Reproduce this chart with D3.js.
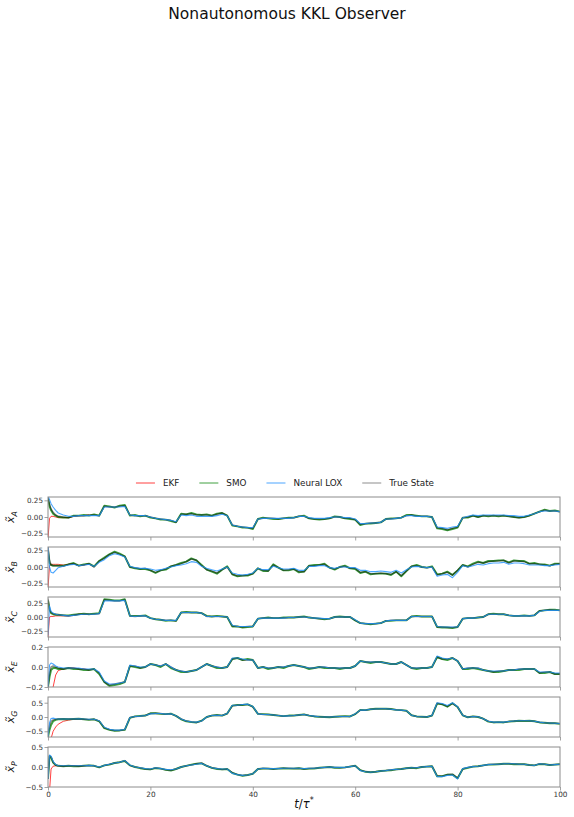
<!DOCTYPE html>
<html><head><meta charset="utf-8">
<script src="https://cdn.jsdelivr.net/npm/d3@7"></script>
<style>body{margin:0;background:#fff} svg{display:block}</style>
</head><body><div id="chart"></div>
<script>
// ---------------- DATA ----------------
const tGrid = [0,0.3,0.6,1,1.5,2,3,4,5,6,7,8,9,10,11,12,13,14,15,16,17,18,19,20,21,22,23,24,25,26,27,28,29,30,31,32,33,34,35,36,37,38,39,40,41,42,43,44,45,46,47,48,49,50,51,52,53,54,55,56,57,58,59,60,61,62,63,64,65,66,67,68,69,70,71,72,73,74,75,76,77,78,79,80,81,82,83,84,85,86,87,88,89,90,91,92,93,94,95,96,97,98,99,100];
const tEkf = [0,0.3,0.6,1,1.5,2,3,4,5,6,7,8];
const xTicks = [0,20,40,60,80,100];
const seriesNames = ["EKF","SMO","Neural LOX","True State"];
const stateLabels = ["A","B","C","E","G","P"];

// x̃_A
const A_true = [0.30,0.19,0.12,0.07,0.03,
 0.01,0.00,-0.01,0.01,0.02,0.02,0.03,0.03,0.02,
 0.16,0.15,0.15,0.16,0.17,0.03,0.02,0.02,0.02,0.00,
 -0.02,-0.03,-0.04,-0.05,-0.08,0.04,0.04,0.05,0.03,0.03,
 0.03,0.02,0.04,0.06,0.02,-0.12,-0.14,-0.15,-0.16,-0.17,
 -0.03,-0.02,-0.02,-0.02,-0.03,-0.02,-0.02,-0.01,0.01,0.01,
 -0.02,-0.03,-0.03,-0.03,-0.02,0.00,0.00,-0.02,-0.02,-0.04,
 -0.11,-0.10,-0.09,-0.09,-0.08,-0.03,-0.03,-0.02,-0.01,0.02,
 0.03,0.01,0.01,0.01,0.00,-0.16,-0.17,-0.19,-0.17,-0.15,
 -0.01,0.00,0.02,0.00,0.02,0.02,0.02,0.02,0.02,0.01,
 0.00,-0.01,0.00,0.02,0.05,0.08,0.10,0.09,0.09,0.08];
const A_smo = [0.28,0.16,0.10,0.05,0.02,
 0.00,-0.01,-0.01,0.02,0.02,0.03,0.02,0.04,0.02,
 0.17,0.16,0.14,0.17,0.18,0.02,0.03,0.01,0.02,-0.01,
 -0.02,-0.04,-0.04,-0.06,-0.08,0.05,0.04,0.06,0.04,0.03,
 0.04,0.02,0.05,0.06,0.02,-0.13,-0.14,-0.16,-0.16,-0.18,
 -0.03,-0.01,-0.02,-0.03,-0.03,-0.02,-0.01,-0.01,0.01,0.02,
 -0.02,-0.03,-0.04,-0.03,-0.02,0.01,0.00,-0.02,-0.03,-0.04,
 -0.12,-0.10,-0.10,-0.09,-0.08,-0.03,-0.02,-0.02,-0.01,0.03,
 0.03,0.02,0.01,0.01,0.00,-0.17,-0.18,-0.20,-0.18,-0.16,
 -0.01,-0.01,0.02,0.00,0.02,0.01,0.02,0.01,0.02,0.01,
 0.00,-0.01,0.00,0.02,0.05,0.08,0.11,0.09,0.10,0.08];
const A_lox = [0.32,0.26,0.20,0.15,0.10,
 0.06,0.03,0.01,0.01,0.02,0.02,0.02,0.02,0.02,
 0.15,0.15,0.15,0.15,0.16,0.03,0.02,0.02,0.02,0.00,
 -0.02,-0.03,-0.04,-0.05,-0.07,0.03,0.02,0.03,0.01,0.01,
 0.01,0.01,0.02,0.04,0.02,-0.12,-0.14,-0.15,-0.16,-0.16,
 -0.03,-0.02,-0.02,-0.02,-0.02,-0.02,-0.02,-0.01,0.01,0.01,
 -0.01,-0.02,-0.02,-0.02,-0.01,0.00,0.00,-0.01,-0.01,-0.03,
 -0.10,-0.10,-0.09,-0.09,-0.08,-0.03,-0.03,-0.02,-0.01,0.02,
 0.02,0.01,0.01,0.01,0.00,-0.15,-0.16,-0.17,-0.15,-0.14,
 -0.01,0.01,0.03,0.02,0.03,0.03,0.03,0.03,0.03,0.02,
 0.02,0.01,0.01,0.03,0.05,0.08,0.09,0.09,0.09,0.08];
const A_ekf = [-0.32,-0.02,0.01,0.01,0.00,-0.01,-0.01,-0.01,0.01,0.02,0.02,0.03];

// x̃_B
const B_true = [0.30,0.10,0.03,0.02,0.02,
 0.02,0.01,0.04,0.05,0.02,0.03,0.05,0.00,0.09,
 0.13,0.19,0.22,0.19,0.16,0.00,-0.01,-0.03,-0.02,-0.05,
 -0.08,-0.05,-0.03,0.01,0.03,0.05,0.08,0.12,0.10,0.02,
 -0.04,-0.06,-0.09,-0.04,0.00,-0.11,-0.13,-0.13,-0.12,-0.10,
 -0.02,-0.05,-0.06,0.03,-0.01,-0.05,-0.04,-0.03,-0.07,-0.07,
 0.02,0.02,0.03,0.04,-0.01,-0.03,0.00,0.01,-0.02,-0.02,
 -0.08,-0.07,-0.10,-0.10,-0.09,-0.10,-0.11,-0.07,-0.13,-0.06,
 0.01,0.02,0.00,-0.01,0.00,-0.12,-0.10,-0.08,-0.12,-0.05,
 0.03,0.00,0.04,0.07,0.06,0.08,0.09,0.09,0.10,0.06,
 0.09,0.09,0.08,0.05,0.05,0.04,0.03,0.02,0.04,0.05];
const B_smo = [0.25,0.06,0.03,0.02,0.02,
 0.02,0.02,0.04,0.06,0.02,0.04,0.05,0.01,0.09,
 0.14,0.19,0.23,0.20,0.16,0.00,-0.02,-0.03,-0.03,-0.05,
 -0.09,-0.05,-0.04,0.01,0.03,0.06,0.08,0.13,0.10,0.03,
 -0.04,-0.07,-0.10,-0.04,0.01,-0.11,-0.14,-0.13,-0.13,-0.10,
 -0.02,-0.06,-0.06,0.04,-0.01,-0.05,-0.05,-0.03,-0.08,-0.07,
 0.02,0.03,0.03,0.05,-0.01,-0.04,0.00,0.02,-0.02,-0.03,
 -0.09,-0.07,-0.11,-0.10,-0.10,-0.10,-0.12,-0.07,-0.14,-0.06,
 0.01,0.03,0.00,-0.01,0.01,-0.11,-0.10,-0.07,-0.12,-0.05,
 0.03,0.01,0.05,0.08,0.06,0.09,0.09,0.10,0.10,0.07,
 0.10,0.09,0.09,0.05,0.06,0.04,0.04,0.02,0.05,0.05];
const B_lox = [0.30,0.00,-0.08,-0.09,-0.05,
 -0.01,0.01,0.03,0.04,0.02,0.03,0.04,0.01,0.07,
 0.11,0.17,0.20,0.18,0.15,0.01,-0.01,-0.02,-0.02,-0.03,
 -0.05,-0.04,-0.02,0.00,0.02,0.03,0.05,0.08,0.07,0.01,
 -0.02,-0.04,-0.06,-0.03,0.00,-0.09,-0.11,-0.12,-0.11,-0.09,
 -0.02,-0.04,-0.04,0.01,-0.01,-0.03,-0.03,-0.02,-0.05,-0.05,
 0.01,0.01,0.02,0.02,-0.01,-0.02,0.00,0.00,-0.01,-0.01,
 -0.05,-0.05,-0.07,-0.07,-0.06,-0.07,-0.08,-0.05,-0.09,-0.04,
 0.00,0.01,0.00,-0.01,0.00,-0.14,-0.12,-0.11,-0.16,-0.08,
 0.02,0.00,0.02,0.04,0.03,0.05,0.06,0.06,0.07,0.04,
 0.06,0.06,0.05,0.03,0.03,0.03,0.02,0.02,0.03,0.04];
const B_ekf = [-0.32,0.02,0.04,0.04,0.04,0.04,0.03,0.04,0.05,0.02,0.03,0.05];

// x̃_C
const C_true = [0.33,0.15,0.08,0.06,0.05,
 0.04,0.03,0.02,0.03,0.05,0.05,0.05,0.05,0.06,
 0.31,0.30,0.29,0.29,0.31,0.02,0.01,0.02,0.02,-0.02,
 -0.04,-0.05,-0.06,-0.06,-0.07,0.08,0.08,0.08,0.08,0.07,
 0.01,0.01,0.01,0.01,0.00,-0.16,-0.17,-0.18,-0.17,-0.17,
 -0.03,-0.02,-0.02,-0.02,-0.02,-0.02,-0.01,-0.01,0.00,0.00,
 -0.01,-0.02,-0.03,-0.03,-0.03,0.00,0.00,0.00,0.00,-0.06,
 -0.11,-0.12,-0.12,-0.12,-0.11,-0.07,-0.06,-0.06,-0.06,-0.06,
 0.01,0.01,0.01,0.01,0.01,-0.18,-0.18,-0.19,-0.19,-0.18,
 -0.03,-0.02,-0.02,-0.01,0.00,0.05,0.05,0.05,0.05,0.03,
 0.02,0.02,0.02,0.02,0.03,0.11,0.12,0.13,0.12,0.12];
const C_smo = [0.30,0.13,0.07,0.05,0.04,
 0.04,0.03,0.03,0.04,0.05,0.06,0.05,0.06,0.07,
 0.32,0.31,0.30,0.30,0.32,0.02,0.02,0.02,0.03,-0.02,
 -0.04,-0.05,-0.07,-0.06,-0.07,0.08,0.09,0.08,0.08,0.07,
 0.02,0.01,0.02,0.01,0.00,-0.17,-0.17,-0.19,-0.18,-0.17,
 -0.03,-0.02,-0.01,-0.02,-0.02,-0.01,-0.01,-0.01,0.00,0.01,
 -0.01,-0.02,-0.03,-0.04,-0.03,0.00,0.01,0.00,0.00,-0.06,
 -0.11,-0.12,-0.13,-0.12,-0.11,-0.07,-0.07,-0.06,-0.06,-0.06,
 0.01,0.02,0.01,0.01,0.01,-0.18,-0.19,-0.19,-0.20,-0.18,
 -0.03,-0.02,-0.02,-0.01,0.00,0.05,0.06,0.05,0.05,0.03,
 0.02,0.02,0.03,0.02,0.03,0.11,0.12,0.13,0.13,0.12];
const C_lox = [-0.33,0.20,0.10,0.07,0.05,
 0.04,0.03,0.02,0.03,0.04,0.05,0.05,0.05,0.06,
 0.29,0.29,0.29,0.29,0.30,0.02,0.01,0.02,0.02,-0.02,
 -0.04,-0.05,-0.06,-0.06,-0.06,0.08,0.08,0.08,0.08,0.07,
 0.01,0.01,0.01,0.01,0.00,-0.15,-0.17,-0.17,-0.17,-0.17,
 -0.03,-0.02,-0.02,-0.02,-0.02,-0.02,-0.01,-0.01,0.00,0.00,
 -0.01,-0.02,-0.02,-0.03,-0.03,0.00,0.00,0.00,0.00,-0.05,
 -0.11,-0.12,-0.12,-0.12,-0.11,-0.07,-0.06,-0.06,-0.06,-0.06,
 0.01,0.01,0.01,0.01,0.01,-0.17,-0.18,-0.18,-0.18,-0.18,
 -0.03,-0.02,-0.02,-0.01,0.00,0.05,0.05,0.05,0.05,0.03,
 0.02,0.02,0.02,0.02,0.03,0.10,0.12,0.12,0.12,0.12];
const C_ekf = [-0.36,0.00,0.01,0.01,0.02,0.02,0.02,0.02,0.03,0.05,0.05,0.05];

// x̃_E
const E_true = [-0.20,-0.06,0.00,0.01,0.00,
 -0.01,-0.02,-0.01,-0.01,-0.02,-0.02,-0.03,-0.02,-0.06,
 -0.15,-0.18,-0.17,-0.16,-0.15,0.01,0.01,-0.01,0.00,0.03,
 0.02,0.01,0.03,0.00,-0.03,-0.04,-0.05,-0.04,-0.03,0.00,
 0.03,0.01,0.00,-0.01,0.00,0.08,0.09,0.07,0.07,0.07,
 -0.01,0.00,-0.01,-0.01,0.00,0.00,0.01,0.02,0.01,0.00,
 -0.01,-0.01,0.00,0.00,-0.01,-0.01,-0.01,-0.01,-0.01,0.01,
 0.06,0.05,0.05,0.05,0.05,0.04,0.03,0.03,0.05,0.02,
 -0.01,-0.01,-0.01,-0.01,0.00,0.10,0.08,0.08,0.09,0.06,
 -0.02,-0.01,-0.01,-0.01,-0.03,-0.04,-0.05,-0.04,-0.04,-0.03,
 -0.03,-0.02,-0.02,-0.02,-0.02,-0.06,-0.05,-0.05,-0.07,-0.07];
const E_smo = [-0.20,-0.10,-0.03,-0.01,-0.01,
 -0.02,-0.02,-0.01,-0.02,-0.02,-0.03,-0.03,-0.02,-0.07,
 -0.15,-0.19,-0.18,-0.17,-0.15,0.01,0.00,-0.01,0.00,0.03,
 0.02,0.00,0.03,-0.01,-0.03,-0.05,-0.05,-0.04,-0.03,0.00,
 0.03,0.01,-0.01,-0.01,0.00,0.08,0.09,0.07,0.08,0.07,
 -0.01,0.00,-0.02,-0.01,0.00,-0.01,0.01,0.02,0.01,0.00,
 -0.02,-0.01,0.00,-0.01,-0.01,-0.01,-0.02,-0.01,-0.01,0.01,
 0.06,0.05,0.04,0.05,0.05,0.04,0.03,0.03,0.05,0.02,
 -0.01,-0.02,-0.01,-0.01,0.00,0.10,0.08,0.07,0.09,0.06,
 -0.02,-0.02,-0.01,-0.02,-0.03,-0.04,-0.05,-0.05,-0.04,-0.03,
 -0.03,-0.03,-0.02,-0.02,-0.02,-0.06,-0.06,-0.05,-0.07,-0.07];
const E_lox = [-0.20,0.02,0.04,0.03,0.01,
 0.00,-0.01,-0.01,-0.01,-0.01,-0.02,-0.02,-0.02,-0.05,
 -0.14,-0.17,-0.17,-0.16,-0.15,0.02,0.01,0.00,0.00,0.03,
 0.02,0.01,0.03,0.00,-0.03,-0.04,-0.05,-0.04,-0.03,0.00,
 0.03,0.01,0.00,-0.01,0.00,0.09,0.09,0.08,0.07,0.07,
 -0.01,0.00,-0.01,-0.01,0.00,0.00,0.01,0.02,0.01,0.00,
 -0.01,-0.01,0.00,0.00,-0.01,-0.01,-0.01,-0.01,-0.01,0.01,
 0.06,0.05,0.05,0.05,0.05,0.04,0.03,0.03,0.05,0.02,
 -0.01,-0.01,-0.01,-0.01,0.00,0.11,0.09,0.08,0.09,0.06,
 -0.02,-0.01,-0.01,-0.01,-0.03,-0.04,-0.04,-0.04,-0.04,-0.03,
 -0.03,-0.02,-0.02,-0.02,-0.02,-0.05,-0.05,-0.05,-0.06,-0.06];
const E_ekf = [-0.50,-0.40,-0.30,-0.20,-0.08,-0.035,-0.02,-0.01,-0.01,-0.02,-0.02,-0.03];

// x̃_G
const G_true = [-0.60,-0.30,-0.15,-0.10,-0.08,
 -0.07,-0.07,-0.07,-0.07,-0.06,-0.08,-0.09,-0.08,-0.14,
 -0.38,-0.44,-0.47,-0.47,-0.44,-0.02,0.02,0.03,0.05,0.12,
 0.13,0.12,0.10,0.11,0.04,-0.07,-0.14,-0.17,-0.19,-0.14,
 0.00,0.05,0.06,0.05,0.12,0.39,0.41,0.43,0.44,0.36,
 0.11,0.09,0.09,0.07,0.05,0.03,0.04,0.05,0.07,0.09,
 0.05,0.03,0.01,0.00,0.00,0.01,0.02,0.02,0.02,0.10,
 0.24,0.24,0.27,0.28,0.29,0.29,0.27,0.25,0.24,0.22,
 0.06,0.02,0.01,0.00,0.05,0.48,0.45,0.37,0.48,0.35,
 0.06,-0.01,0.02,0.01,-0.06,-0.15,-0.18,-0.18,-0.18,-0.16,
 -0.14,-0.13,-0.13,-0.13,-0.15,-0.18,-0.20,-0.21,-0.22,-0.23];
const G_smo = [-0.70,-0.45,-0.28,-0.15,-0.10,
 -0.08,-0.07,-0.08,-0.07,-0.06,-0.08,-0.10,-0.08,-0.15,
 -0.39,-0.45,-0.48,-0.47,-0.45,-0.03,0.02,0.04,0.05,0.13,
 0.13,0.11,0.10,0.12,0.04,-0.08,-0.15,-0.18,-0.19,-0.13,
 0.00,0.05,0.07,0.05,0.12,0.40,0.42,0.42,0.44,0.36,
 0.11,0.10,0.09,0.07,0.05,0.03,0.05,0.05,0.07,0.09,
 0.05,0.02,0.01,0.00,-0.01,0.01,0.02,0.03,0.02,0.10,
 0.25,0.24,0.27,0.29,0.29,0.29,0.28,0.25,0.24,0.22,
 0.06,0.02,0.01,0.00,0.05,0.47,0.44,0.36,0.48,0.35,
 0.06,-0.01,0.02,0.00,-0.06,-0.16,-0.19,-0.18,-0.19,-0.16,
 -0.15,-0.13,-0.14,-0.13,-0.15,-0.19,-0.20,-0.22,-0.22,-0.24];
const G_lox = [-0.70,-0.20,-0.05,-0.04,-0.06,
 -0.07,-0.07,-0.07,-0.07,-0.06,-0.07,-0.08,-0.08,-0.13,
 -0.36,-0.43,-0.46,-0.46,-0.44,-0.02,0.02,0.03,0.05,0.11,
 0.12,0.12,0.10,0.11,0.04,-0.07,-0.14,-0.17,-0.18,-0.14,
 0.00,0.05,0.06,0.05,0.12,0.41,0.41,0.44,0.45,0.37,
 0.11,0.09,0.09,0.07,0.05,0.03,0.04,0.05,0.07,0.09,
 0.05,0.03,0.01,0.00,0.00,0.01,0.02,0.02,0.02,0.11,
 0.24,0.24,0.27,0.28,0.29,0.29,0.27,0.25,0.24,0.22,
 0.06,0.02,0.01,0.00,0.05,0.50,0.47,0.40,0.50,0.36,
 0.06,-0.01,0.02,0.01,-0.06,-0.15,-0.18,-0.18,-0.18,-0.16,
 -0.14,-0.13,-0.13,-0.13,-0.15,-0.18,-0.20,-0.21,-0.22,-0.23];
const G_ekf = [-1.00,-0.90,-0.75,-0.50,-0.35,-0.25,-0.15,-0.11,-0.08,-0.07,-0.08,-0.09];

// x̃_P
const P_true = [-0.30,0.28,0.25,0.12,0.05,
 0.03,0.02,0.03,0.03,0.02,0.03,0.04,0.03,-0.01,
 0.04,0.07,0.10,0.12,0.16,0.04,0.00,-0.02,-0.05,-0.06,
 -0.02,-0.04,-0.07,-0.08,-0.05,0.00,0.03,0.05,0.08,0.10,
 0.03,-0.02,-0.04,-0.06,-0.05,-0.14,-0.19,-0.21,-0.20,-0.17,
 -0.05,-0.03,-0.04,-0.05,-0.04,-0.03,-0.03,-0.04,-0.03,-0.05,
 -0.04,-0.03,-0.02,-0.01,0.00,-0.01,-0.02,-0.01,0.01,0.03,
 -0.08,-0.11,-0.13,-0.12,-0.10,-0.09,-0.07,-0.06,-0.05,-0.03,
 -0.02,-0.02,0.00,0.01,0.02,-0.22,-0.23,-0.19,-0.18,-0.28,
 -0.05,-0.01,0.01,0.02,0.04,0.06,0.07,0.07,0.08,0.08,
 0.08,0.07,0.07,0.05,0.04,0.08,0.07,0.05,0.06,0.07];
const P_smo = [-0.30,0.27,0.24,0.11,0.05,
 0.03,0.02,0.03,0.02,0.02,0.03,0.04,0.03,-0.01,
 0.04,0.06,0.10,0.12,0.15,0.04,0.00,-0.03,-0.05,-0.06,
 -0.03,-0.04,-0.07,-0.09,-0.05,0.00,0.03,0.06,0.08,0.09,
 0.03,-0.02,-0.05,-0.06,-0.05,-0.15,-0.19,-0.22,-0.20,-0.17,
 -0.05,-0.04,-0.04,-0.05,-0.04,-0.03,-0.04,-0.04,-0.03,-0.05,
 -0.04,-0.04,-0.02,-0.01,0.00,-0.02,-0.02,-0.01,0.01,0.03,
 -0.08,-0.12,-0.13,-0.12,-0.10,-0.09,-0.08,-0.06,-0.05,-0.03,
 -0.02,-0.03,0.00,0.01,0.02,-0.23,-0.23,-0.19,-0.19,-0.28,
 -0.05,-0.02,0.01,0.02,0.04,0.06,0.06,0.07,0.08,0.08,
 0.07,0.07,0.07,0.05,0.04,0.07,0.07,0.05,0.06,0.07];
const P_lox = [-0.30,0.30,0.27,0.14,0.06,
 0.03,0.03,0.03,0.03,0.03,0.03,0.04,0.03,0.00,
 0.04,0.07,0.10,0.12,0.16,0.05,0.00,-0.02,-0.04,-0.05,
 -0.02,-0.04,-0.06,-0.07,-0.05,0.00,0.03,0.05,0.07,0.09,
 0.03,-0.02,-0.04,-0.05,-0.05,-0.16,-0.19,-0.21,-0.20,-0.17,
 -0.05,-0.03,-0.04,-0.04,-0.04,-0.03,-0.03,-0.03,-0.03,-0.04,
 -0.03,-0.03,-0.02,-0.01,0.00,-0.01,-0.01,-0.01,0.01,0.03,
 -0.09,-0.12,-0.13,-0.12,-0.10,-0.09,-0.07,-0.06,-0.05,-0.03,
 -0.02,-0.02,0.00,0.01,0.02,-0.24,-0.24,-0.21,-0.20,-0.30,
 -0.04,-0.01,0.01,0.02,0.04,0.06,0.07,0.07,0.08,0.08,
 0.08,0.07,0.07,0.05,0.04,0.08,0.07,0.05,0.06,0.07];
const P_ekf = [-0.90,-0.60,-0.05,0.02,0.03,0.03,0.02,0.03,0.03,0.02,0.03,0.04];

// y-axis limits and tick labels per panel
const yLimits = [0.3, 0.3, 0.36, 0.2, 0.7, 0.5];
const yTicksA = [-0.25, 0, 0.25];
const yTicksB = [-0.25, 0, 0.25];
const yTicksC = [-0.25, 0, 0.25];
const yTicksE = [-0.2, 0, 0.2];
const yTicksG = [-0.5, 0, 0.5];
const yTicksP = [-0.5, 0, 0.5];

// ---------------- TABLE built from arrays ----------------
const panels = [
  {lab:stateLabels[0], lim:yLimits[0], ticks:yTicksA, fmt:".2f", tru:A_true, smo:A_smo, lox:A_lox, ekf:A_ekf},
  {lab:stateLabels[1], lim:yLimits[1], ticks:yTicksB, fmt:".2f", tru:B_true, smo:B_smo, lox:B_lox, ekf:B_ekf},
  {lab:stateLabels[2], lim:yLimits[2], ticks:yTicksC, fmt:".2f", tru:C_true, smo:C_smo, lox:C_lox, ekf:C_ekf},
  {lab:stateLabels[3], lim:yLimits[3], ticks:yTicksE, fmt:".1f", tru:E_true, smo:E_smo, lox:E_lox, ekf:E_ekf},
  {lab:stateLabels[4], lim:yLimits[4], ticks:yTicksG, fmt:".1f", tru:G_true, smo:G_smo, lox:G_lox, ekf:G_ekf},
  {lab:stateLabels[5], lim:yLimits[5], ticks:yTicksP, fmt:".1f", tru:P_true, smo:P_smo, lox:P_lox, ekf:P_ekf}
];
panels.forEach(p => ["tru","smo","lox"].forEach(k => {
  if (p[k].length !== tGrid.length) console.error("length mismatch", p.lab, k, p[k].length);
}));

// ---------------- STYLE ----------------
const W = 574, H = 817;
const plotL = 48, plotR = 560, top0 = 497, panelH = 40, gap = 10;
const FONT = "'DejaVu Sans', sans-serif";
const styles = {
  "EKF":        {color:"#ff0000", width:1.0, opacity:0.75},
  "SMO":        {color:"#008000", width:1.9, opacity:0.75},
  "Neural LOX": {color:"#1e90ff", width:1.1, opacity:0.8},
  "True State": {color:"#000000", width:1.5, opacity:0.45}
};
const spineColor = "#8c8c8c";

const svg = d3.select("#chart").append("svg").attr("width", W).attr("height", H);
svg.append("rect").attr("width", W).attr("height", H).attr("fill", "#fff");

// Title
svg.append("text").attr("x", 287).attr("y", 19).attr("text-anchor", "middle")
  .attr("font-family", FONT).attr("font-size", 15.5).attr("fill", "#111")
  .text("Nonautonomous KKL Observer");

const x = d3.scaleLinear().domain([0, 100]).range([plotL, plotR]);

panels.forEach((p, i) => {
  const y0 = top0 + i * (panelH + gap);
  const y = d3.scaleLinear().domain([-p.lim, p.lim]).range([y0 + panelH, y0]);
  const g = svg.append("g");
  const cid = "clip" + i;
  svg.append("defs").append("clipPath").attr("id", cid)
    .append("rect").attr("x", plotL).attr("y", y0).attr("width", plotR - plotL).attr("height", panelH);

  const lineMain = d3.line().x((d, j) => x(tGrid[j])).y(d => y(d));
  const lineEkf = d3.line().x((d, j) => x(tEkf[j])).y(d => y(d));
  const pg = g.append("g").attr("clip-path", `url(#${cid})`);
  const draw = (data, gen, name) => {
    const s = styles[name];
    pg.append("path").datum(data).attr("d", gen).attr("fill", "none")
      .attr("stroke", s.color).attr("stroke-width", s.width).attr("stroke-opacity", s.opacity)
      .attr("stroke-linejoin", "round");
  };
  draw(p.ekf, lineEkf, "EKF");
  draw(p.smo, lineMain, "SMO");
  draw(p.tru, lineMain, "True State");
  draw(p.lox, lineMain, "Neural LOX");

  // y axis
  const ya = g.append("g").attr("transform", `translate(${plotL},0)`)
    .call(d3.axisLeft(y).tickValues(p.ticks).tickFormat(d3.format(p.fmt)).tickSize(3.5).tickPadding(1.5));
  ya.select(".domain").remove();
  ya.selectAll("line").attr("stroke", spineColor).attr("stroke-width", 0.8);
  ya.selectAll("text").attr("font-family", FONT).attr("font-size", 7.2).attr("fill", "#333");

  // x axis
  const last = i === panels.length - 1;
  const xa = g.append("g").attr("transform", `translate(0,${y0 + panelH})`)
    .call(d3.axisBottom(x).tickValues(xTicks).tickFormat(last ? d3.format("d") : () => "").tickSize(3.5).tickPadding(1));
  xa.select(".domain").remove();
  xa.selectAll("line").attr("stroke", spineColor).attr("stroke-width", 0.8);
  xa.selectAll("text").attr("font-family", FONT).attr("font-size", 7.3).attr("fill", "#333");

  // frame
  g.append("rect").attr("x", plotL).attr("y", y0).attr("width", plotR - plotL).attr("height", panelH)
    .attr("fill", "none").attr("stroke", spineColor).attr("stroke-width", 1);

  // y label
  const yl = g.append("text").attr("transform", `translate(14,${y0 + panelH / 2}) rotate(-90)`)
    .attr("text-anchor", "middle").attr("font-family", FONT).attr("fill", "#111");
  yl.append("tspan").attr("font-size", 11).attr("font-style", "italic").text("x\u0303");
  yl.append("tspan").attr("font-size", 7.8).attr("font-style", "italic").attr("dy", 2.5).text(p.lab);
});

// x label
const xl = svg.append("text").attr("x", (plotL + plotR) / 2).attr("y", 808).attr("text-anchor", "middle")
  .attr("font-family", FONT).attr("font-size", 11.5).attr("fill", "#111");
xl.append("tspan").attr("font-style", "italic").text("t");
xl.append("tspan").text("/");
xl.append("tspan").attr("font-style", "italic").text("\u03c4");
xl.append("tspan").attr("font-size", 8).attr("dy", -5).text("*");

// legend
const leg = svg.append("g");
let cx = 0;
seriesNames.forEach(name => {
  const s = styles[name];
  const it = leg.append("g").attr("transform", `translate(${cx},0)`);
  it.append("line").attr("x1", 0).attr("x2", 19).attr("y1", 0).attr("y2", 0)
    .attr("stroke", s.color).attr("stroke-width", 1).attr("stroke-opacity", s.opacity);
  const t = it.append("text").attr("x", 27).attr("y", 3.2).attr("font-family", FONT)
    .attr("font-size", 8.8).attr("fill", "#222").text(name);
  cx += 27 + t.node().getComputedTextLength() + 20;
});
const legW = cx - 20;
leg.attr("transform", `translate(${285 - legW / 2},483)`);
</script>
</body></html>
